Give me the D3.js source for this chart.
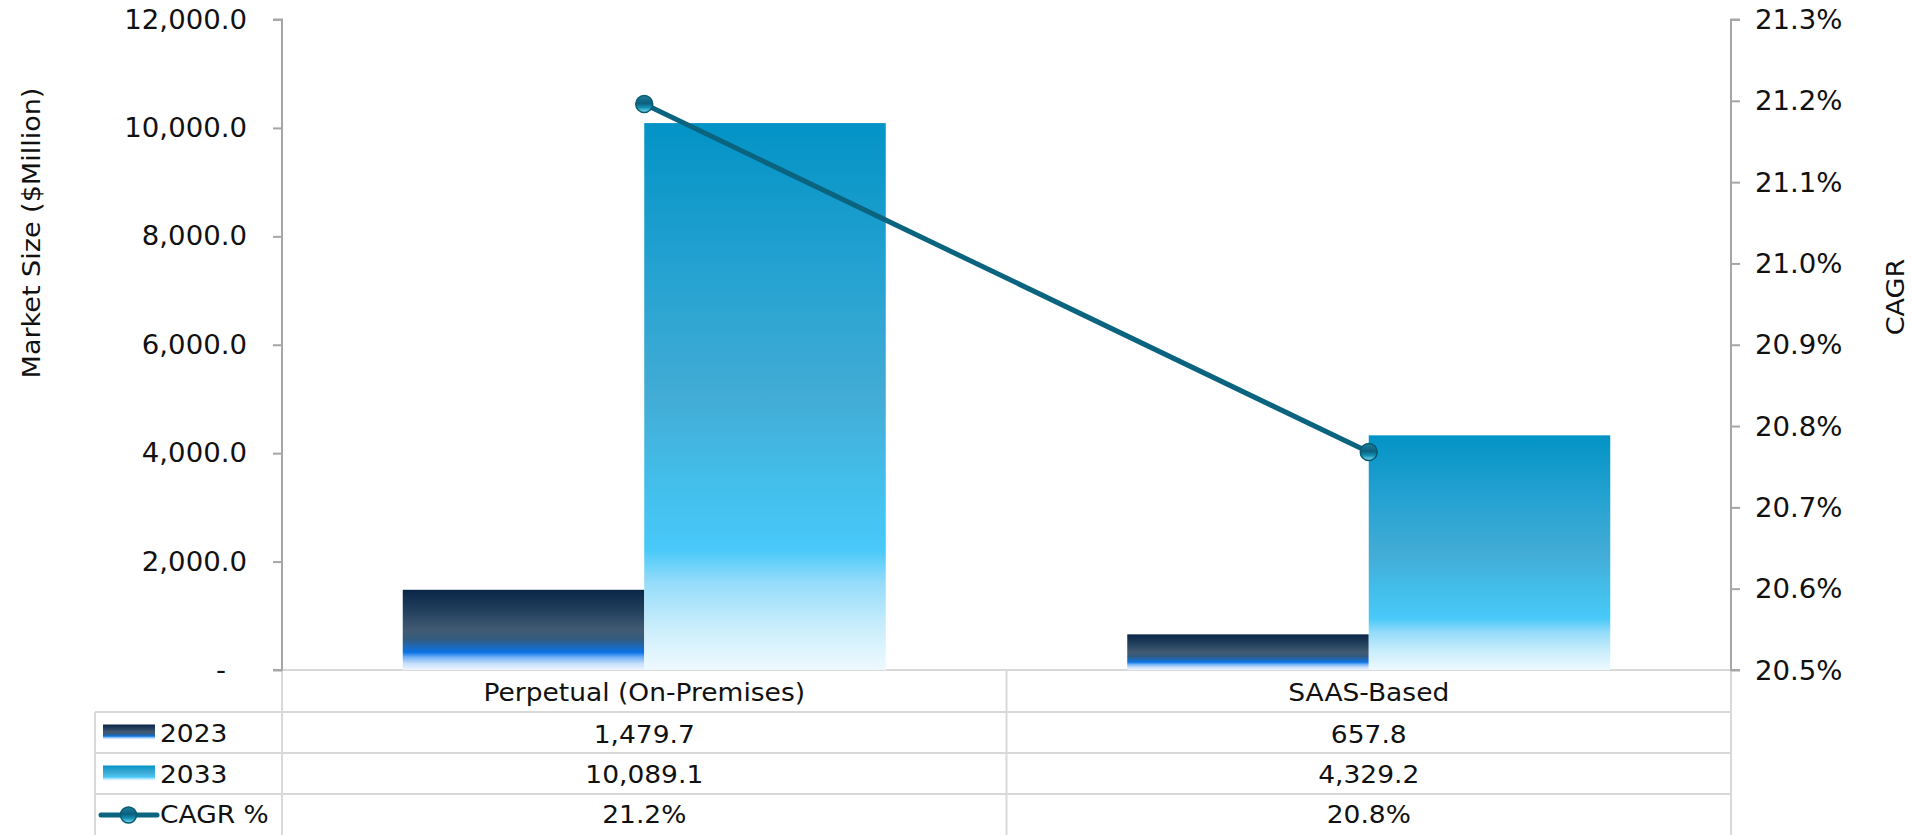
<!DOCTYPE html>
<html>
<head>
<meta charset="utf-8">
<script src="https://cdn.jsdelivr.net/npm/d3@7"></script>
<style>
  html, body { margin: 0; padding: 0; background: #fff; }
  svg { display: block; }
  text { font-family: "DejaVu Sans", Verdana, sans-serif; fill: #111; }
</style>
</head>
<body>
<svg id="chart" width="1913" height="835"></svg>
<script>
// ---- data ----
const categories = ["Perpetual (On-Premises)", "SAAS-Based"];
const series = ["2023", "2033"];
const values2023 = [1479.7, 657.8];
const values2033 = [10089.1, 4329.2];
const cagr = [21.196, 20.768];
const cagrLabels = ["21.2%", "20.8%"];
const leftTicks = [0, 2000, 4000, 6000, 8000, 10000, 12000];
const rightTicks = [20.5, 20.6, 20.7, 20.8, 20.9, 21.0, 21.1, 21.2, 21.3];

// ---- layout ----
const W = 1913, H = 835;
const plotL = 282, plotR = 1731, plotT = 19.5, plotB = 670;
const rowLines = [670, 712, 753, 794, 836];
const tableL = 95;
const sx = 1.06;

const svg = d3.select("#chart");
const defs = svg.append("defs");

function grad(id, stops) {
  const g = defs.append("linearGradient").attr("id", id)
    .attr("x1", 0).attr("y1", 0).attr("x2", 0).attr("y2", 1);
  stops.forEach(s => g.append("stop").attr("offset", s[0]).attr("stop-color", s[1]));
}
grad("g2023", [[0, "#0a2647"], [0.25, "#213e5c"], [0.5, "#425b72"], [0.62, "#335a80"], [0.78, "#0a74e6"], [0.84, "#6fb0f5"], [0.92, "#c5defb"], [1, "#eef6ff"]]);
grad("g2033", [[0, "#0393c6"], [0.25, "#22a1d0"], [0.5, "#42acd6"], [0.65, "#43bde9"], [0.78, "#48c9f9"], [0.84, "#95dcfa"], [0.92, "#c9edfc"], [1, "#eef9fe"]]);
grad("gMarker", [[0, "#1f7f9c"], [0.45, "#0b5f7d"], [0.7, "#138fb2"], [1, "#86e2f6"]]);
const fills = { "2023": "url(#g2023)", "2033": "url(#g2033)" };

const y = d3.scaleLinear().domain([0, 12000]).range([plotB, plotT]);
const yR = d3.scaleLinear().domain([20.5, 21.3]).range([plotB, plotT]);
const x0 = d3.scaleBand().domain(categories).range([plotL, plotR]).padding(0);
const x1 = d3.scaleBand().domain(series).range([0, x0.bandwidth()]).paddingInner(0).paddingOuter(0.5);

function stretchText(g, x, yy, txt, size, anchor, rot) {
  return g.append("text")
    .attr("transform", `translate(${x},${yy})` + (rot ? ` rotate(${rot})` : "") + ` scale(${sx},1)`)
    .attr("font-size", size)
    .attr("text-anchor", anchor || "start")
    .text(txt);
}

// ---- table grid ----
const grid = svg.append("g").attr("stroke", "#d9d9d9").attr("stroke-width", 2);
grid.append("line").attr("x1", plotL).attr("x2", plotR).attr("y1", rowLines[0]).attr("y2", rowLines[0]);
rowLines.slice(1).forEach(r => grid.append("line").attr("x1", tableL).attr("x2", plotR).attr("y1", r).attr("y2", r));
grid.append("line").attr("x1", tableL).attr("x2", tableL).attr("y1", rowLines[1]).attr("y2", H);
[plotL, plotL + x0.bandwidth(), plotR].forEach(xx =>
  grid.append("line").attr("x1", xx).attr("x2", xx).attr("y1", plotB).attr("y2", H));

// ---- bars ----
const barData = [];
categories.forEach((c, i) => {
  barData.push({ c, s: "2023", v: values2023[i] });
  barData.push({ c, s: "2033", v: values2033[i] });
});
svg.append("g").selectAll("rect").data(barData).join("rect")
  .attr("x", d => x0(d.c) + x1(d.s))
  .attr("width", x1.bandwidth())
  .attr("y", d => y(d.v))
  .attr("height", d => y(0) - y(d.v))
  .attr("fill", d => fills[d.s]);

// ---- axes ----
const axL = svg.append("g").attr("transform", `translate(${plotL},0)`)
  .call(d3.axisLeft(y).tickValues(leftTicks).tickSize(9).tickFormat(() => ""));
const axR = svg.append("g").attr("transform", `translate(${plotR},0)`)
  .call(d3.axisRight(yR).tickValues(rightTicks).tickSize(9).tickFormat(() => ""));
[axL, axR].forEach(a => {
  a.select(".domain").attr("stroke", "#a6a6a6").attr("stroke-width", 2);
  a.selectAll(".tick line").attr("stroke", "#a6a6a6").attr("stroke-width", 2);
});
axL.select(".domain").attr("d", `M-9,${plotT}H0V${plotB}H-9`);
axR.select(".domain").attr("d", `M9,${plotT}H0V${plotB}H9`);

const labs = svg.append("g");
const fmtL = d3.format(",.1f");
leftTicks.forEach(t => {
  if (t === 0) stretchText(labs, 216, y(t) + 9, "-", 26, "start");
  else stretchText(labs, 247, y(t) + 9, fmtL(t), 26, "end");
});
rightTicks.forEach(t => stretchText(labs, 1755, yR(t) + 9.5, t.toFixed(1) + "%", 26, "start"));

// axis titles
stretchText(labs, 40, 233, "Market Size ($Million)", 25.5, "middle", -90);
stretchText(labs, 1904, 297, "CAGR", 25.5, "middle", -90);

// ---- CAGR line ----
const pts = categories.map((c, i) => [x0(c) + x0.bandwidth() / 2, yR(cagr[i])]);
svg.append("path").attr("d", d3.line()(pts))
  .attr("fill", "none").attr("stroke", "#0a6480").attr("stroke-width", 5);
svg.append("g").selectAll("circle").data(pts).join("circle")
  .attr("cx", d => d[0]).attr("cy", d => d[1]).attr("r", 8.5)
  .attr("fill", "url(#gMarker)").attr("stroke", "#0a5a72").attr("stroke-width", 1.5);

// ---- table text ----
const tt = svg.append("g");
const mid = r => (rowLines[r] + rowLines[r + 1]) / 2;
categories.forEach((c, i) => {
  const cx = x0(c) + x0.bandwidth() / 2;
  stretchText(tt, cx, mid(0) + 10, c, 25, "middle");
  stretchText(tt, cx, mid(1) + 10, fmtL(values2023[i]), 25, "middle");
  stretchText(tt, cx, mid(2) + 9, fmtL(values2033[i]), 25, "middle");
  stretchText(tt, cx, mid(3) + 8, cagrLabels[i], 25, "middle");
});

// legend keys in table
const legendRows = [{ s: "2023", r: 1 }, { s: "2033", r: 2 }];
legendRows.forEach(l => {
  tt.append("rect").attr("x", 103).attr("y", mid(l.r) - 8).attr("width", 52).attr("height", 15)
    .attr("fill", fills[l.s]);
  stretchText(tt, 160, mid(l.r) + 9, l.s, 25, "start");
});
const ly = mid(3);
tt.append("line").attr("x1", 101).attr("x2", 157).attr("y1", ly).attr("y2", ly)
  .attr("stroke", "#0a6480").attr("stroke-width", 5).attr("stroke-linecap", "round");
tt.append("circle").attr("cx", 128.5).attr("cy", ly).attr("r", 8)
  .attr("fill", "url(#gMarker)").attr("stroke", "#0a5a72").attr("stroke-width", 1.5);
stretchText(tt, 160, ly + 8, "CAGR %", 25, "start");
</script>
</body>
</html>
